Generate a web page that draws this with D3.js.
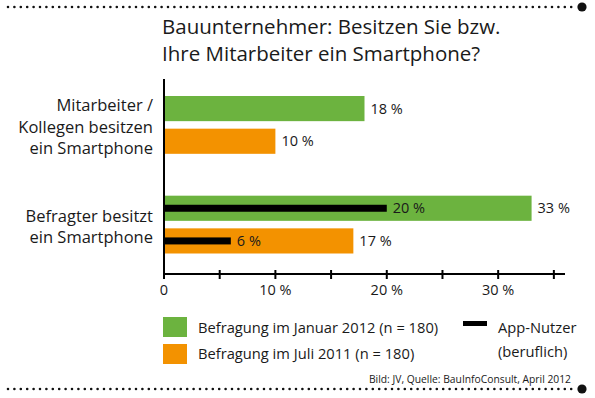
<!DOCTYPE html>
<html>
<head>
<meta charset="utf-8">
<script src="https://cdn.jsdelivr.net/npm/d3@7"></script>
<style>
    body { margin: 0; background: #fff; }
    svg { display: block; font-family: "Open Sans", sans-serif; fill: #1a1a1a; }
</style>
</head>
<body>
<div class="chart"></div>
<script>

// Chart data
var categories = ["Mitarbeiter / Kollegen besitzen ein Smartphone", "Befragter besitzt ein Smartphone"];
var categoryLines = [["Mitarbeiter /", "Kollegen besitzen", "ein Smartphone"], ["Befragter besitzt", "ein Smartphone"]];
var seriesNames = ["Befragung im Januar 2012 (n = 180)", "Befragung im Juli 2011 (n = 180)"];
var jan2012 = [18, 33];
var jul2011 = [10, 17];
var appJan2012 = [null, 20];
var appJul2011 = [null, 6];
var xTicks = [0, 5, 10, 15, 20, 25, 30, 35];
var xTickLabels = ["0", "", "10 %", "", "20 %", "", "30 %", ""];

var width = 595, height = 398;
var green = "#6cb33f", orange = "#f39200";

var svg = d3.select(".chart")
    .append("svg")
        .attr("width", width)
        .attr("height", height);

// Dotted rules at top and bottom
function dottedRule(y, x1, x2) {
    svg.append("line")
        .attr("x1", x1).attr("x2", x2)
        .attr("y1", y).attr("y2", y)
        .style("stroke", "#111")
        .style("stroke-width", 2.6)
        .style("stroke-linecap", "round")
        .style("stroke-dasharray", "0 6.4");
    svg.append("circle")
        .attr("cx", x2 + 6).attr("cy", y).attr("r", 4.6)
        .style("fill", "#111");
}
dottedRule(7, 8, 576);
dottedRule(389, 8, 576);

// Title
var title = svg.append("text")
    .style("font-size", "20.5px");
title.append("tspan").attr("x", 162).attr("y", 34).text("Bauunternehmer: Besitzen Sie bzw.");
title.append("tspan").attr("x", 162).attr("y", 61).text("Ihre Mitarbeiter ein Smartphone?");

// Scales
var x = d3.scaleLinear()
    .domain([0, 36])
    .range([164, 565]);

var y0 = d3.scaleBand()
    .domain(categories)
    .range([96, 253.5])
    .paddingInner(0.42);

var y1 = d3.scaleBand()
    .domain(seriesNames)
    .range([0, y0.bandwidth()])
    .paddingInner(0.23);

var rows = categories.map(function(c, i) {
    return [
        { cat: c, series: seriesNames[0], value: jan2012[i], app: appJan2012[i], color: green },
        { cat: c, series: seriesNames[1], value: jul2011[i], app: appJul2011[i], color: orange }
    ];
});
var bars = d3.merge(rows);

// Bars
svg.selectAll("rect.bar")
    .data(bars)
    .enter()
    .append("rect")
    .attr("class", "bar")
    .attr("x", x(0))
    .attr("y", function(d) { return y0(d.cat) + y1(d.series); })
    .attr("width", function(d) { return x(d.value) - x(0); })
    .attr("height", y1.bandwidth())
    .style("fill", function(d) { return d.color; });

// Value labels behind the bars
svg.selectAll("text.value")
    .data(bars)
    .enter()
    .append("text")
    .attr("class", "value")
    .attr("x", function(d) { return x(d.value) + 6; })
    .attr("y", function(d) { return y0(d.cat) + y1(d.series) + y1.bandwidth() / 2; })
    .attr("dy", "0.36em")
    .style("font-size", "14.5px")
    .text(function(d) { return d.value + " %"; });

// App users (black bars inside)
var appBars = bars.filter(function(d) { return d.app != null; });

svg.selectAll("rect.app")
    .data(appBars)
    .enter()
    .append("rect")
    .attr("class", "app")
    .attr("x", x(0))
    .attr("y", function(d) { return y0(d.cat) + y1(d.series) + y1.bandwidth() / 2 - 3.5; })
    .attr("width", function(d) { return x(d.app) - x(0); })
    .attr("height", 7)
    .style("fill", "#000");

svg.selectAll("text.app")
    .data(appBars)
    .enter()
    .append("text")
    .attr("class", "app")
    .attr("x", function(d) { return x(d.app) + 6; })
    .attr("y", function(d) { return y0(d.cat) + y1(d.series) + y1.bandwidth() / 2; })
    .attr("dy", "0.36em")
    .style("font-size", "14.5px")
    .text(function(d) { return d.app + " %"; });

// Category labels
categories.forEach(function(c, i) {
    var lines = categoryLines[i];
    var center = y0(c) + y0.bandwidth() / 2;
    var first = center - (lines.length - 1) * 21.5 / 2 + 8;
    var t = svg.append("text")
        .attr("text-anchor", "end")
        .style("font-size", "16.5px");
    lines.forEach(function(l, j) {
        t.append("tspan").attr("x", 153).attr("y", first + j * 21.5).text(l);
    });
});

// Axes
var axisY = 274;

svg.append("line")
    .attr("x1", x(0)).attr("x2", x(0))
    .attr("y1", 79).attr("y2", axisY)
    .style("stroke", "#000").style("stroke-width", 2);

var xAxis = svg.append("g")
    .attr("transform", "translate(0," + axisY + ")");

xAxis.append("line")
    .attr("x1", x(0) - 1).attr("x2", x.range()[1])
    .style("stroke", "#000").style("stroke-width", 2);

xAxis.selectAll("line.tick")
    .data(xTicks)
    .enter()
    .append("line")
    .attr("class", "tick")
    .attr("x1", function(d) { return x(d); })
    .attr("x2", function(d) { return x(d); })
    .attr("y1", -4).attr("y2", 5)
    .style("stroke", "#000").style("stroke-width", 2);

xAxis.selectAll("text")
    .data(xTicks)
    .enter()
    .append("text")
    .attr("x", function(d) { return x(d); })
    .attr("y", 21)
    .attr("text-anchor", "middle")
    .style("font-size", "14.5px")
    .text(function(d, i) { return xTickLabels[i]; });

// Legend
var legend = svg.append("g");
var legendColors = [green, orange];

seriesNames.forEach(function(s, i) {
    legend.append("rect")
        .attr("x", 163).attr("y", 317 + i * 27)
        .attr("width", 24).attr("height", 20)
        .style("fill", legendColors[i]);
    legend.append("text")
        .attr("x", 198).attr("y", 333 + i * 26)
        .style("font-size", "14.7px")
        .text(s);
});

legend.append("rect")
    .attr("x", 463).attr("y", 321)
    .attr("width", 24).attr("height", 5)
    .style("fill", "#000");

var appLegend = legend.append("text").style("font-size", "14.7px");
appLegend.append("tspan").attr("x", 498).attr("y", 333).text("App-Nutzer");
appLegend.append("tspan").attr("x", 498).attr("y", 357).text("(beruflich)");

// Source
svg.append("text")
    .attr("x", 571).attr("y", 383)
    .attr("text-anchor", "end")
    .style("font-size", "10.3px")
    .text("Bild: JV, Quelle: BauInfoConsult, April 2012");

</script>
</body>
</html>
